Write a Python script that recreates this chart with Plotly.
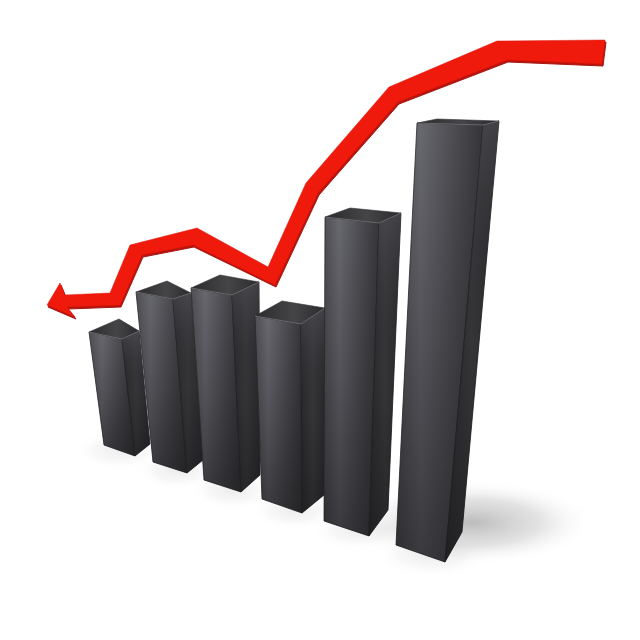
import plotly.graph_objects as go

# Corner readings per bar, in picture units: (x, y)
bar_left_top = [(89, 332), (136, 292), (191, 288), (255, 316), (325, 217), (417, 123)]
bar_back_top = [(119, 319), (167, 281), (220, 275), (282, 301), (350, 208), (437, 119)]
bar_right_top = [(139, 331), (191, 293), (259, 282), (325, 308), (401, 213), (499, 121)]
bar_front_top = [(122, 339), (173, 299), (232, 295), (301, 324), (379, 223), (483, 125)]
bar_left_bottom = [(104, 445), (153, 462), (204, 480), (262, 499), (324, 521), (396, 545)]
bar_front_bottom = [(135, 456), (187, 473), (241, 492), (302, 513), (369, 536), (445, 562)]
bar_right_bottom = [(150, 444), (203, 460), (260, 475), (324, 495), (388, 510), (462, 532)]

# Red arrow outline
arrow_x = [47, 60, 65, 110, 130, 197, 268, 306, 389, 497, 605, 602, 507, 398, 318, 275, 193, 142, 120, 67, 75]
arrow_y = [305, 283, 295, 293, 245, 228, 267, 183, 87, 41, 40, 64, 60, 102, 193, 285, 245, 255, 305, 307, 317]

# Soft floor shadows: x0, x1, y0, y1, peak opacity
shadow_x0 = [350, 75, 135, 190, 250, 310, 375]
shadow_x1 = [595, 165, 220, 275, 340, 410, 490]
shadow_y0 = [480, 430, 450, 470, 490, 510, 530]
shadow_y1 = [565, 470, 490, 510, 530, 550, 578]
shadow_peak = [0.5, 0.14, 0.14, 0.14, 0.14, 0.14, 0.14]

fig = go.Figure()


def poly(xs, ys, **kw):
    fig.add_trace(go.Scatter(x=xs + xs[:1], y=ys + ys[:1], mode="lines", fill="toself",
                             hoverinfo="skip", showlegend=False, **kw))


def face(points, **kw):
    poly([p[0] for p in points], [p[1] for p in points], **kw)


for x0, x1, y0, y1, peak in zip(shadow_x0, shadow_x1, shadow_y0, shadow_y1, shadow_peak):
    poly([x0, x1, x1, x0], [y0, y0, y1, y1], line=dict(width=0),
         fillgradient=dict(type="radial", colorscale=[
             [0, f"rgba(120,122,120,{peak})"],
             [0.55, f"rgba(150,152,150,{peak * 0.55})"],
             [1, "rgba(255,255,255,0)"]]))

no_line = dict(width=0)
for i in range(6):
    lt, bt, rt, ft = bar_left_top[i], bar_back_top[i], bar_right_top[i], bar_front_top[i]
    lb, fb, rb = bar_left_bottom[i], bar_front_bottom[i], bar_right_bottom[i]
    # front face
    face([lt, ft, fb, lb], line=dict(width=0.8, color="#2a2a2c"),
         fillgradient=dict(type="horizontal", colorscale=[
             [0, "#4e4e53"], [0.28, "#68686f"], [0.7, "#4a4a4f"], [1, "#36363a"]]))
    face([lt, ft, fb, lb], line=no_line,
         fillgradient=dict(type="vertical", colorscale=[
             [0, "rgba(20,20,22,0.55)"], [0.5, "rgba(20,20,22,0.25)"], [1, "rgba(20,20,22,0.0)"]]))
    # side face
    face([ft, rt, rb, fb], line=dict(width=0.8, color="#1d1d1f"),
         fillgradient=dict(type="horizontal", colorscale=[
             [0, "#2b2b2e"], [0.5, "#3a3a3d"], [1, "#2a2a2c"]]))
    face([ft, rt, rb, fb], line=no_line,
         fillgradient=dict(type="vertical", colorscale=[
             [0, "rgba(20,20,22,0.5)"], [0.5, "rgba(25,25,27,0.15)"], [1, "rgba(80,80,86,0.6)"]]))
    # top face
    face([lt, bt, rt, ft], line=dict(width=0.6, color="#333335"),
         fillgradient=dict(type="horizontal", colorscale=[
             [0, "#2b2b2d"], [0.55, "#454548"], [1, "#2b2b2d"]]))
    # highlight on upper rims
    fig.add_trace(go.Scatter(x=[lt[0], ft[0], rt[0]], y=[lt[1], ft[1], rt[1]], mode="lines",
                             line=dict(width=0.8, color="#737377"), hoverinfo="skip", showlegend=False))

# red arrow: darker underside first, then the bright ribbon
poly([x + 1 for x in arrow_x], [y + 2 for y in arrow_y], line=dict(width=1, color="#a81710"), fillcolor="#b8140d")
poly(arrow_x, arrow_y, line=dict(width=0.5, color="#d8160c"), fillcolor="#f01a0c")

fig.update_layout(
    width=640, height=640, margin=dict(l=0, r=0, t=0, b=0),
    paper_bgcolor="white", plot_bgcolor="white", showlegend=False,
    xaxis=dict(range=[0, 640], visible=False, fixedrange=True),
    yaxis=dict(range=[640, 0], visible=False, fixedrange=True),
)
fig.write_html("out.html", config=dict(displayModeBar=False),
               post_script="document.body.style.margin='0';")
